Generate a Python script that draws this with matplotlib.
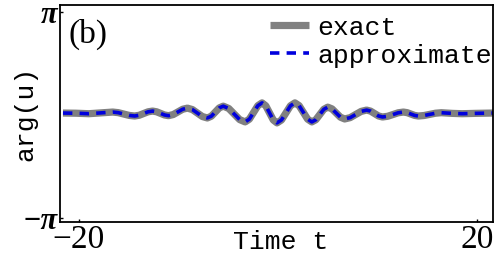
import numpy as np
import matplotlib; matplotlib.use("Agg"); import matplotlib.pyplot as plt

# phase of u(t) (extrema + quarter points between them)
t = [-21.6, -20.3, -19.0, -17.8, -16.6, -16.05, -15.5, -14.95, -14.4, -13.95, -13.5, -13.05,
     -12.6, -12.2, -11.8, -11.4, -11.0, -10.525, -10.05, -9.575, -9.1, -8.6, -8.1, -7.6,
     -7.1, -6.7, -6.3, -5.9, -5.5, -4.95, -4.4, -3.85, -3.3, -2.875, -2.45, -2.025,
     -1.6, -1.225, -0.85, -0.475, -0.1, 0.35, 0.8, 1.25, 1.7, 2.125, 2.55, 2.975,
     3.4, 3.8, 4.2, 4.6, 5.0, 5.425, 5.85, 6.275, 6.7, 7.25, 7.8, 8.35,
     8.9, 9.3, 9.7, 10.1, 10.5, 11.025, 11.55, 12.075, 12.6, 12.975, 13.35, 13.725,
     14.1, 14.675, 15.25, 15.825, 16.4, 17.5, 18.5, 19.8, 21.6]
phase_exact = [0.06, 0.055, 0.04, 0.065, 0.09, 0.072, 0.03, -0.012, -0.03, -0.008, 0.045, 0.098,
               0.12, 0.099, 0.05, 0.001, -0.02, 0.014, 0.095, 0.176, 0.21, 0.166, 0.06, -0.046,
               -0.09, -0.037, 0.09, 0.217, 0.27, 0.20, 0.03, -0.14, -0.21, -0.125, 0.08, 0.285,
               0.37, 0.281, 0.065, -0.151, -0.24, -0.151, 0.065, 0.281, 0.37, 0.285, 0.08, -0.125,
               -0.21, -0.144, 0.015, 0.174, 0.24, 0.187, 0.06, -0.067, -0.12, -0.08, 0.015, 0.11,
               0.15, 0.119, 0.045, -0.029, -0.06, -0.038, 0.015, 0.068, 0.09, 0.072, 0.03, -0.012,
               -0.03, -0.015, 0.02, 0.055, 0.07, 0.05, 0.04, 0.05, 0.06]
phase_approx = list(phase_exact)   # indistinguishable from the exact curve in the figure

MONO = "Liberation Mono"; SERIF = "Liberation Serif"

fig = plt.figure(figsize=(5, 2.67), dpi=100)
ax = fig.add_axes([0.12, 0.1685, 0.866, 0.8125])
ax.plot(t, phase_exact, color="#808080", lw=5.2, solid_capstyle="butt", label="exact")
ax.plot(t, phase_approx, color="#0000dd", lw=2.6, dashes=(2.6, 2.0), label="approximate")
ax.set_xlim(-21.9, 21.6); ax.set_ylim(-3.26, 3.35)
ax.set_xticks([-20, 20]); ax.set_xticklabels(["\u221220", "20"], family=SERIF, fontsize=24)
ax.set_yticks([-np.pi, np.pi])
ax.set_yticklabels(["\u2212\u03c0", "\u03c0"], family=SERIF, fontsize=22, fontweight="bold", fontstyle="italic")
ax.tick_params(direction="in", length=2, width=1, pad=2)
for s in ax.spines.values(): s.set_linewidth(1.3)
ax.set_xlabel("Time t", family=MONO, fontsize=19)
ax.xaxis.set_label_coords(0.51, -0.035)
ax.set_ylabel("arg(u)", family=MONO, fontsize=19, labelpad=-11)
ax.text(0.02, 0.935, "(b)", transform=ax.transAxes, family=SERIF, fontsize=24, va="top")
ax.legend(loc="upper right", frameon=False, prop={"family": MONO, "size": 19},
          handlelength=1.5, handletextpad=0.3, labelspacing=0.15, borderaxespad=0.0,
          bbox_to_anchor=(1.022, 1.0))
fig.savefig("out.png", dpi=100)
